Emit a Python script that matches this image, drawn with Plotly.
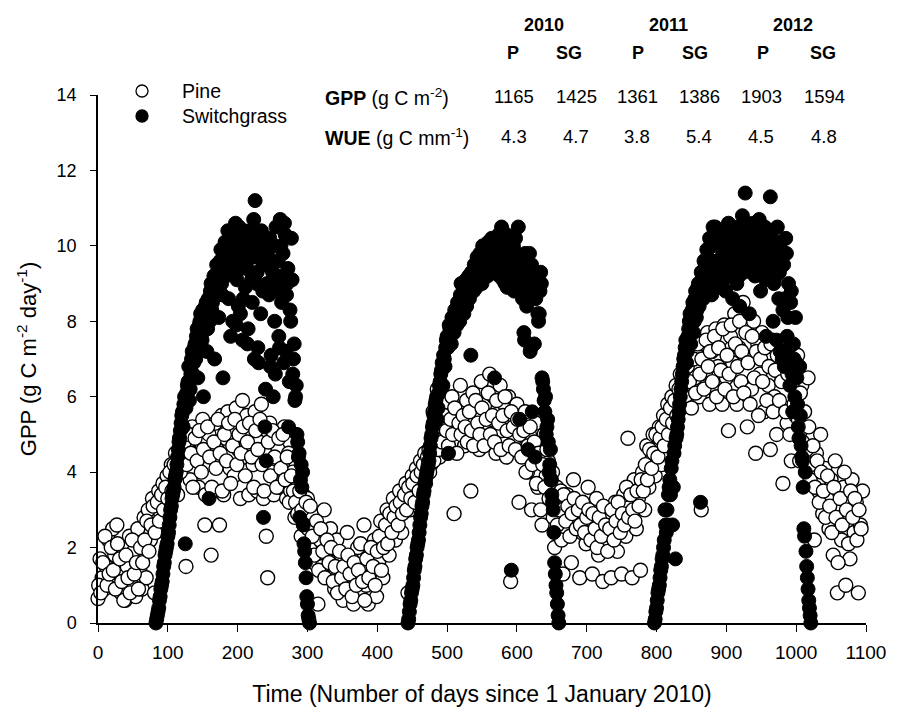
import plotly.graph_objects as go

# ---------------- data ----------------
pine_day = [0, 3, 6, 9, 12, 15, 18, 21, 24, 27, 30, 33, 36, 39, 42, 45, 48, 51, 54, 57,
            60, 63, 66, 69, 72, 75, 78, 81, 84, 87, 90, 93, 96, 99, 102, 105, 108, 111, 114, 117,
            120, 123, 126, 129, 132, 135, 138, 141, 144, 147, 150, 153, 156, 159, 162, 165, 168, 171, 174, 177,
            180, 183, 186, 189, 192, 195, 198, 201, 204, 207, 210, 213, 216, 219, 222, 225, 228, 231, 234, 237,
            240, 243, 246, 249, 252, 255, 258, 261, 264, 267, 270, 273, 276, 279, 282, 285, 288, 291, 294, 297,
            300, 303, 306, 309, 312, 315, 318, 321, 324, 327, 330, 333, 336, 339, 342, 345, 348, 351, 354, 357,
            360, 363, 366, 369, 372, 375, 378, 381, 384, 387, 390, 393, 396, 399, 402, 405, 408, 411, 414, 417,
            420, 423, 426, 429, 432, 435, 438, 441, 444, 447, 450, 453, 456, 459, 462, 465, 468, 471, 474, 477,
            480, 483, 486, 489, 492, 495, 498, 501, 504, 507, 510, 513, 516, 519, 522, 525, 528, 531, 534, 537,
            540, 543, 546, 549, 552, 555, 558, 561, 564, 567, 570, 573, 576, 579, 582, 585, 588, 591, 594, 597,
            600, 603, 606, 609, 612, 615, 618, 621, 624, 627, 630, 633, 636, 639, 642, 645, 648, 651, 654, 657,
            660, 663, 666, 669, 672, 675, 678, 681, 684, 687, 690, 693, 696, 699, 702, 705, 708, 711, 714, 717,
            720, 723, 726, 729, 732, 735, 738, 741, 744, 747, 750, 753, 756, 759, 762, 765, 768, 771, 774, 777,
            780, 783, 786, 789, 792, 795, 798, 801, 804, 807, 810, 813, 816, 819, 822, 825, 828, 831, 834, 837,
            840, 843, 846, 849, 852, 855, 858, 861, 864, 867, 870, 873, 876, 879, 882, 885, 888, 891, 894, 897,
            900, 903, 906, 909, 912, 915, 918, 921, 924, 927, 930, 933, 936, 939, 942, 945, 948, 951, 954, 957,
            960, 963, 966, 969, 972, 975, 978, 981, 984, 987, 990, 993, 996, 999, 1002, 1005, 1008, 1011, 1014, 1017,
            1020, 1023, 1026, 1029, 1032, 1035, 1038, 1041, 1044, 1047, 1050, 1053, 1056, 1059, 1062, 1065, 1068, 1071, 1074, 1077,
            1080, 1083, 1086, 1089, 1092, 1095]
pine_gpp = [0.65, 1.7, 1.2, 0.9, 1.5, 2.2, 1.1, 2.5, 1.8, 2.6, 1.3, 0.8, 2.0, 0.6, 1.5, 2.3, 1.0, 1.9, 0.7, 2.5,
            1.4, 0.9, 2.8, 1.2, 3.0, 2.2, 3.3, 0.8, 2.6, 3.5, 2.9, 3.7, 3.2, 3.9, 3.0, 4.2, 3.6, 4.5, 3.4, 4.9,
            4.3, 5.1, 1.5, 4.6, 3.8, 5.2, 4.4, 5.0, 3.6, 4.8, 5.4, 2.6, 4.2, 5.0, 1.8, 3.5, 5.3, 4.6, 2.6, 5.5,
            3.4, 4.9, 5.6, 4.1, 5.2, 3.9, 5.7, 4.6, 3.3, 5.9, 4.4, 5.5, 3.4, 5.0, 4.2, 5.6, 3.5, 4.8, 5.8, 3.3,
            4.5, 1.2, 5.3, 4.0, 3.4, 5.0, 4.6, 3.6, 4.2, 5.2, 3.3, 4.5, 3.5, 4.0, 2.8, 3.6, 3.2, 2.3, 3.4, 2.6,
            3.3, 2.0, 2.9, 1.6, 2.5, 0.5, 2.2, 1.5, 3.0, 1.9, 1.2, 2.5, 1.6, 0.9, 2.2, 1.3, 1.8, 0.6, 1.4, 2.4,
            1.0, 1.7, 0.5, 1.2, 2.0, 0.8, 1.5, 2.6, 1.0, 0.5, 1.8, 1.3, 2.2, 0.7, 1.6, 2.7, 1.2, 2.3, 3.0, 1.8,
            2.6, 3.3, 2.2, 2.9, 3.5, 2.4, 3.1, 3.7, 0.8, 3.0, 3.9, 3.4, 4.1, 3.6, 4.3, 3.8, 4.5, 4.0, 4.6, 4.2,
            5.6, 4.8, 6.2, 4.4, 5.3, 5.0, 5.8, 4.5, 5.5, 6.0, 2.9, 5.2, 4.8, 6.3, 5.7, 4.7, 5.9, 5.3, 3.5, 6.1,
            5.0, 5.6, 4.6, 6.4, 5.2, 5.8, 4.9, 6.6, 5.4, 6.0, 4.5, 5.7, 6.3, 5.1, 5.8, 4.4, 6.0, 1.1, 5.5, 4.9,
            5.8, 3.2, 5.2, 4.5, 5.6, 4.0, 5.0, 3.0, 4.6, 5.3, 3.6, 4.4, 2.6, 5.0, 3.9, 4.3, 3.2, 4.0, 2.0, 3.6,
            2.8, 3.5, 1.3, 2.5, 3.4, 2.9, 1.6, 3.8, 2.6, 3.2, 1.2, 2.4, 3.0, 2.1, 3.6, 2.7, 1.3, 2.2, 3.3, 1.8,
            2.6, 1.1, 3.0, 2.0, 2.8, 1.2, 2.4, 3.2, 1.9, 2.7, 1.3, 3.4, 2.3, 4.9, 2.9, 1.2, 3.8, 2.5, 3.3, 1.4,
            4.0, 3.0, 4.7, 3.6, 4.3, 5.0, 3.9, 4.6, 5.2, 4.2, 5.5, 4.8, 5.8, 5.1, 6.0, 5.4, 6.3, 5.8, 6.6, 6.0,
            7.0, 6.3, 7.3, 5.9, 7.5, 6.5, 7.1, 6.0, 3.0, 7.4, 6.6, 7.7, 5.8, 7.2, 6.2, 7.8, 6.8, 7.5, 5.8, 7.9,
            6.5, 5.1, 7.6, 6.9, 8.2, 5.8, 7.3, 6.4, 8.5, 7.0, 5.2, 7.8, 6.2, 8.0, 4.5, 7.4, 6.6, 7.7, 5.6, 7.0,
            6.3, 4.6, 7.5, 6.0, 5.0, 7.2, 6.6, 3.7, 7.0, 5.3, 6.4, 4.3, 6.9, 5.5, 7.1, 4.3, 6.3, 5.0, 4.4, 6.5,
            3.8, 4.9, 2.2, 4.5, 3.5, 5.0, 2.9, 4.1, 3.3, 2.5, 3.8, 1.8, 4.3, 0.8, 3.0, 2.2, 3.6, 1.0, 2.7, 1.7,
            3.8, 2.4, 3.2, 0.8, 2.6, 3.5]

pine_day_b = [1, 4, 7, 10, 13, 16, 19, 22, 25, 28,
              31, 34, 37, 40, 43, 46, 49, 52, 55, 58,
              61, 64, 67, 70, 73, 76, 79, 82, 85, 88,
              91, 94, 97, 100, 103, 106, 109, 112, 115, 118,
              121, 124, 127, 130, 133, 136, 139, 142, 145, 148,
              151, 154, 157, 160, 163, 166, 169, 172, 175, 178,
              181, 184, 187, 190, 193, 196, 199, 202, 205, 208,
              211, 214, 217, 220, 223, 226, 229, 232, 235, 238,
              241, 244, 247, 250, 253, 256, 259, 262, 265, 268,
              271, 274, 277, 280, 283, 286, 289, 292, 295, 298,
              301, 304, 307, 310, 313, 316, 319, 322, 325, 328,
              331, 334, 337, 340, 343, 346, 349, 352, 355, 358,
              361, 364, 367, 370, 373, 376, 379, 382, 385, 388,
              391, 394, 397, 400, 403, 406, 409, 412, 415, 418,
              421, 424, 427, 430, 433, 436, 439, 442, 445, 448,
              451, 454, 457, 460, 463, 466, 469, 472, 475, 478,
              481, 484, 487, 490, 493, 496, 499, 502, 505, 508,
              511, 514, 517, 520, 523, 526, 529, 532, 535, 538,
              541, 544, 547, 550, 553, 556, 559, 562, 565, 568,
              571, 574, 577, 580, 583, 586, 589, 592, 595, 598,
              601, 604, 607, 610, 613, 616, 619, 622, 625, 628,
              631, 634, 637, 640, 643, 646, 649, 652, 655, 658,
              661, 664, 667, 670, 673, 676, 679, 682, 685, 688,
              691, 694, 697, 700, 703, 706, 709, 712, 715, 718,
              721, 724, 727, 730, 733, 736, 739, 742, 745, 748,
              751, 754, 757, 760, 763, 766, 769, 772, 775, 778,
              781, 784, 787, 790, 793, 796, 799, 802, 805, 808,
              811, 814, 817, 820, 823, 826, 829, 832, 835, 838,
              841, 844, 847, 850, 853, 856, 859, 862, 865, 868,
              871, 874, 877, 880, 883, 886, 889, 892, 895, 898,
              901, 904, 907, 910, 913, 916, 919, 922, 925, 928,
              931, 934, 937, 940, 943, 946, 949, 952, 955, 958,
              961, 964, 967, 970, 973, 976, 979, 982, 985, 988,
              991, 994, 997, 1000, 1003, 1006, 1009, 1012, 1015, 1018,
              1021, 1024, 1027, 1030, 1033, 1036, 1039, 1042, 1045, 1048,
              1051, 1054, 1057, 1060, 1063, 1066, 1069, 1072, 1075, 1078,
              1081, 1084, 1087, 1090, 1093]
pine_gpp_b = [1.0, 0.8, 1.6, 2.3, 1.0, 1.3, 2.0, 1.4, 0.9, 2.1,
              1.7, 1.1, 0.6, 1.8, 1.2, 0.8, 2.2, 1.3, 1.6, 0.9,
              2.0, 1.6, 2.2, 2.7, 1.9, 2.6, 3.1, 2.4, 3.2, 2.7,
              3.4, 3.0, 3.6, 3.3, 4.0, 3.5, 4.2, 3.9, 4.4, 4.0,
              4.6, 4.8, 4.2, 5.0, 4.5, 3.6, 4.9, 4.3, 5.1, 4.0,
              4.6, 3.4, 5.2, 4.4, 3.6, 4.8, 4.1, 5.4, 4.5, 3.5,
              5.0, 4.3, 5.3, 3.7, 4.7, 5.4, 4.2, 5.0, 4.5, 5.2,
              3.9, 4.8, 5.3, 4.4, 3.6, 5.1, 4.6, 5.4, 4.2, 3.5,
              2.3, 4.8, 3.9, 5.1, 4.4, 3.6, 4.9, 4.1, 5.0, 3.8,
              4.4, 3.2, 3.9, 3.5, 3.2, 2.9, 3.5, 3.0, 2.6, 3.2,
              2.5, 3.1, 2.3, 1.8, 2.7, 1.4, 2.5, 1.9, 1.2, 2.2,
              1.6, 2.0, 1.1, 1.5, 0.8, 1.9, 1.2, 1.5, 0.9, 1.8,
              1.3, 0.7, 1.6, 1.0, 1.4, 2.1, 1.1, 0.6, 1.7, 1.2,
              2.0, 1.5, 1.0, 1.9, 2.3, 1.4, 2.0, 2.6, 2.1, 2.9,
              2.4, 2.8, 3.1, 2.6, 3.2, 2.9, 3.4, 3.0, 3.6, 3.3,
              3.7, 3.2, 3.9, 3.5, 4.0, 4.2, 3.7, 4.4, 4.0, 4.7,
              4.3, 5.0, 4.6, 5.2, 4.8, 5.5, 5.1, 4.7, 5.4, 5.0,
              5.7, 4.5, 5.3, 5.0, 5.5, 5.2, 4.8, 5.6, 5.1, 4.7,
              5.9, 5.3, 5.0, 5.7, 4.7, 5.4, 6.1, 5.0, 5.5, 4.8,
              5.9, 5.3, 4.6, 5.5, 6.0, 5.1, 4.7, 5.6, 5.2, 4.6,
              5.4, 5.0, 4.4, 5.1, 4.0, 4.7, 5.2, 4.2, 4.8, 3.7,
              4.5, 3.0, 4.2, 3.6, 4.6, 3.3, 3.8, 2.8, 3.3, 2.6,
              3.0, 2.2, 3.4, 2.7, 3.1, 2.3, 2.9, 3.3, 2.5, 3.0,
              2.6, 3.2, 2.4, 2.8, 3.0, 2.2, 2.9, 2.5, 2.0, 2.8,
              2.3, 3.1, 2.6, 1.9, 2.5, 3.0, 2.2, 2.7, 3.2, 2.4,
              2.9, 2.6, 3.6, 2.8, 3.4, 3.0, 2.7, 3.5, 3.1, 3.8,
              3.5, 4.2, 3.8, 4.6, 4.1, 4.5, 5.0, 4.4, 4.9, 5.2,
              4.7, 5.4, 5.0, 5.7, 5.3, 5.9, 5.5, 6.2, 5.7, 6.5,
              6.0, 6.8, 6.4, 5.7, 7.0, 6.1, 7.4, 6.6, 7.0, 6.2,
              7.5, 6.8, 7.2, 6.4, 7.6, 6.0, 7.3, 6.7, 7.8, 6.2,
              7.1, 6.6, 7.9, 6.0, 7.4, 6.8, 8.0, 7.2, 6.1, 7.7,
              6.9, 5.8, 7.6, 6.5, 7.2, 5.5, 7.0, 6.4, 7.3, 5.9,
              6.8, 7.4, 5.6, 6.7, 7.1, 5.9, 6.4, 7.2, 5.6, 6.6,
              5.0, 6.3, 5.8, 6.8, 5.4, 6.1, 4.8, 5.6, 4.6, 5.2,
              4.2, 4.7, 3.6, 4.3, 3.2, 4.0, 3.5, 2.8, 3.9, 3.1,
              2.4, 3.6, 2.8, 1.6, 3.3, 2.6, 4.0, 3.0, 2.1, 3.5,
              2.8, 3.3, 2.2, 3.0, 2.5]

sg_day = [83, 85, 87, 89, 91, 93, 95, 97, 99, 101, 103, 105, 107, 109, 111, 113, 115, 117, 119, 121,
          123, 125, 127, 129, 131, 133, 135, 137, 139, 141, 143, 145, 147, 149, 151, 153, 155, 157, 159, 161,
          163, 165, 167, 169, 171, 173, 175, 177, 179, 181, 183, 185, 187, 189, 191, 193, 195, 197, 199, 201,
          203, 205, 207, 209, 211, 213, 215, 217, 219, 221, 223, 225, 227, 229, 231, 233, 235, 237, 239, 241,
          243, 245, 247, 249, 251, 253, 255, 257, 259, 261, 263, 265, 267, 269, 271, 273, 275, 277, 279, 281,
          283, 285, 287, 289, 291, 293, 295, 297, 299, 301, 303,
          444, 446, 448, 450, 452, 454, 456, 458, 460, 462, 464, 466, 468, 470, 472, 474, 476, 478, 480, 482,
          484, 486, 488, 490, 492, 494, 496, 498, 500, 502, 504, 506, 508, 510, 512, 514, 516, 518, 520, 522,
          524, 526, 528, 530, 532, 534, 536, 538, 540, 542, 544, 546, 548, 550, 552, 554, 556, 558, 560, 562,
          564, 566, 568, 570, 572, 574, 576, 578, 580, 582, 584, 586, 588, 590, 592, 594, 596, 598, 600, 602,
          604, 606, 608, 610, 612, 614, 616, 618, 620, 622, 624, 626, 628, 630, 632, 634, 636, 638, 640, 642,
          644, 646, 648, 650, 652, 654, 656, 658, 660,
          797, 799, 801, 803, 805, 807, 809, 811, 813, 815, 817, 819, 821, 823, 825, 827, 829, 831, 833, 835,
          837, 839, 841, 843, 845, 847, 849, 851, 853, 855, 857, 859, 861, 863, 865, 867, 869, 871, 873, 875,
          877, 879, 881, 883, 885, 887, 889, 891, 893, 895, 897, 899, 901, 903, 905, 907, 909, 911, 913, 915,
          917, 919, 921, 923, 925, 927, 929, 931, 933, 935, 937, 939, 941, 943, 945, 947, 949, 951, 953, 955,
          957, 959, 961, 963, 965, 967, 969, 971, 973, 975, 977, 979, 981, 983, 985, 987, 989, 991, 993, 995,
          997, 999, 1001, 1003, 1005, 1007, 1009, 1011, 1013, 1015, 1017, 1019, 1021]
sg_gpp = [0.0, 0.2, 0.4, 0.7, 1.0, 1.3, 1.6, 1.9, 2.1, 2.4, 2.8, 3.1, 3.4, 3.6, 3.9, 4.2, 4.6, 4.9, 5.3, 5.6,
          5.8, 2.1, 6.1, 6.4, 5.9, 6.6, 7.2, 6.9, 7.4, 7.6, 6.5, 7.9, 8.2, 7.5, 6.0, 8.0, 8.5, 7.8, 3.3, 8.8,
          8.3, 9.0, 7.0, 8.7, 9.3, 8.1, 9.6, 9.0, 6.5, 9.8, 9.2, 10.0, 8.6, 9.5, 10.3, 8.0, 9.7, 10.6, 9.1, 8.4,
          10.1, 9.4, 7.5, 10.4, 8.9, 9.9, 7.8, 10.2, 9.3, 8.5, 10.7, 11.2, 9.0, 7.3, 10.3, 8.2, 9.6, 2.8, 5.2, 4.3,
          10.0, 8.7, 6.8, 9.4, 6.0, 8.0, 10.5, 9.1, 7.6, 10.7, 8.5, 9.8, 10.6, 7.2, 9.0, 5.2, 8.3, 10.2, 6.6, 7.4,
          6.0, 5.0, 4.4, 2.8, 4.2, 4.0, 2.1, 1.6, 0.7, 0.2, 0.0,
          0.0, 0.3, 0.6, 0.9, 1.2, 1.5, 1.8, 2.1, 2.4, 2.8, 3.1, 3.4, 3.7, 3.9, 4.1, 4.3, 4.7, 5.0, 5.3, 5.6,
          5.9, 5.4, 6.1, 6.4, 6.7, 6.3, 7.0, 7.3, 7.6, 4.5, 7.8, 7.4, 8.0, 7.7, 8.2, 7.9, 8.4, 8.0, 9.0, 8.6,
          8.2, 8.8, 8.4, 9.0, 8.6, 7.1, 9.2, 8.8, 9.4, 8.9, 9.5, 9.1, 9.6, 9.0, 9.8, 9.3, 9.9, 9.2, 10.0, 9.5,
          10.2, 9.3, 6.5, 9.9, 9.4, 10.3, 9.6, 10.5, 9.1, 10.0, 9.5, 8.9, 10.1, 9.3, 1.4, 9.7, 8.8, 10.2, 9.0, 10.5,
          5.4, 9.4, 8.6, 7.7, 9.8, 8.4, 4.6, 9.8, 7.3, 5.6, 8.8, 4.4, 9.1, 8.2, 8.2, 9.3, 6.5, 6.2, 5.6, 5.0,
          5.4, 4.0, 4.6, 3.4, 3.0, 1.6, 1.0, 0.5, 0.0,
          0.0, 0.3, 0.6, 0.9, 1.2, 1.5, 1.8, 2.2, 2.6, 3.0, 3.4, 3.8, 4.1, 2.6, 4.5, 1.7, 5.0, 5.4, 5.8, 6.2,
          6.6, 7.0, 7.3, 6.9, 7.6, 8.0, 7.4, 8.3, 7.7, 8.6, 8.1, 8.9, 8.4, 3.2, 9.1, 8.6, 9.4, 8.8, 9.7, 9.0,
          10.0, 8.7, 10.5, 9.3, 10.1, 8.9, 9.6, 10.3, 9.1, 9.8, 10.4, 8.8, 9.5, 10.6, 9.2, 10.0, 8.6, 9.7, 10.4, 9.0,
          10.1, 8.4, 9.6, 10.8, 9.3, 11.4, 10.2, 9.5, 8.2, 10.4, 9.8, 10.6, 9.2, 10.0, 9.6, 10.7, 8.8, 10.2, 9.4, 10.5,
          7.6, 9.9, 10.3, 11.3, 9.5, 8.0, 10.0, 9.2, 10.5, 8.6, 7.2, 9.8, 8.3, 6.8, 10.2, 7.6, 9.0, 6.3, 8.8, 5.6,
          7.0, 8.1, 6.5, 5.2, 6.8, 4.7, 4.3, 2.5, 4.0, 1.5, 0.9, 0.4, 0.0]

sg_day_b = [84, 86, 88, 90, 92, 94, 96, 98, 100, 102,
            104, 106, 108, 110, 112, 114, 116, 118, 120, 122,
            124, 126, 128, 130, 132, 134, 136, 138, 140, 142,
            144, 146, 148, 150, 152, 154, 156, 158, 160, 162,
            164, 166, 168, 170, 172, 174, 176, 178, 180, 182,
            184, 186, 188, 190, 192, 194, 196, 198, 200, 202,
            204, 206, 208, 210, 212, 214, 216, 218, 220, 222,
            224, 226, 228, 230, 232, 234, 236, 238, 240, 242,
            244, 246, 248, 250, 252, 254, 256, 258, 260, 262,
            264, 266, 268, 270, 272, 274, 276, 278, 280, 282,
            284, 286, 288, 290, 292, 294, 296, 298, 300, 302,
            445, 447, 449, 451, 453, 455, 457, 459, 461, 463,
            465, 467, 469, 471, 473, 475, 477, 479, 481, 483,
            485, 487, 489, 491, 493, 495, 497, 499, 501, 503,
            505, 507, 509, 511, 513, 515, 517, 519, 521, 523,
            525, 527, 529, 531, 533, 535, 537, 539, 541, 543,
            545, 547, 549, 551, 553, 555, 557, 559, 561, 563,
            565, 567, 569, 571, 573, 575, 577, 579, 581, 583,
            585, 587, 589, 591, 593, 595, 597, 599, 601, 603,
            605, 607, 609, 611, 613, 615, 617, 619, 621, 623,
            625, 627, 629, 631, 633, 635, 637, 639, 641, 643,
            645, 647, 649, 651, 653, 655, 657, 659,
            798, 800, 802, 804, 806, 808, 810, 812, 814, 816,
            818, 820, 822, 824, 826, 828, 830, 832, 834, 836,
            838, 840, 842, 844, 846, 848, 850, 852, 854, 856,
            858, 860, 862, 864, 866, 868, 870, 872, 874, 876,
            878, 880, 882, 884, 886, 888, 890, 892, 894, 896,
            898, 900, 902, 904, 906, 908, 910, 912, 914, 916,
            918, 920, 922, 924, 926, 928, 930, 932, 934, 936,
            938, 940, 942, 944, 946, 948, 950, 952, 954, 956,
            958, 960, 962, 964, 966, 968, 970, 972, 974, 976,
            978, 980, 982, 984, 986, 988, 990, 992, 994, 996,
            998, 1000, 1002, 1004, 1006, 1008, 1010, 1012, 1014, 1016,
            1018, 1020]
sg_gpp_b = [0.1, 0.3, 0.6, 0.9, 1.1, 1.5, 1.8, 2.0, 2.3, 2.6,
            3.0, 3.3, 3.5, 3.8, 4.0, 4.4, 4.8, 5.1, 5.5, 5.2,
            6.0, 5.7, 6.3, 6.8, 6.2, 7.0, 6.6, 7.3, 7.0, 7.8,
            7.2, 8.0, 7.6, 8.3, 7.9, 8.4, 7.2, 8.6, 8.0, 9.0,
            8.5, 9.2, 8.8, 9.5, 8.9, 9.4, 9.9, 8.7, 9.6, 10.1,
            9.3, 10.4, 9.7, 7.6, 10.0, 9.4, 10.2, 7.9, 9.6, 10.5,
            8.2, 9.8, 8.6, 10.0, 9.5, 7.4, 9.9, 10.4, 9.1, 9.7,
            7.0, 10.1, 9.3, 6.9, 9.8, 10.4, 8.8, 9.5, 6.2, 9.0,
            9.7, 10.2, 7.1, 9.3, 10.0, 6.6, 8.8, 9.6, 7.3, 10.0,
            9.2, 6.9, 10.3, 8.7, 9.4, 6.4, 8.0, 9.1, 7.0, 5.9,
            6.3, 4.8, 4.5, 3.8, 3.6, 2.6, 1.9, 1.2, 0.5, 0.1,
            0.1, 0.5, 0.8, 1.0, 1.4, 1.7, 2.0, 2.2, 2.6, 2.9,
            3.2, 3.5, 3.8, 4.0, 4.2, 4.5, 4.9, 5.2, 5.5, 5.8,
            6.0, 5.7, 6.3, 6.6, 6.9, 7.1, 6.8, 7.5, 7.3, 7.9,
            7.6, 8.1, 7.8, 8.3, 8.0, 8.5, 8.2, 8.7, 8.3, 8.9,
            8.5, 9.1, 8.7, 9.2, 8.8, 9.3, 9.0, 9.5, 9.1, 9.7,
            9.3, 9.8, 9.4, 10.0, 9.5, 9.7, 9.3, 10.1, 9.6, 9.9,
            9.4, 10.1, 9.6, 10.2, 9.7, 9.2, 10.0, 9.5, 9.8, 9.0,
            10.3, 9.6, 9.1, 9.9, 9.4, 10.0, 9.3, 9.8, 9.2, 9.6,
            8.9, 9.7, 9.0, 7.5, 9.4, 8.6, 9.1, 7.2, 9.5, 8.7,
            7.4, 8.6, 9.3, 8.0, 8.8, 9.0, 6.4, 5.9, 6.0, 5.2,
            4.8, 4.2, 3.8, 3.2, 2.4, 1.3, 0.8, 0.2,
            0.1, 0.4, 0.8, 1.0, 1.4, 1.7, 2.0, 3.0, 2.4, 2.6,
            3.6, 3.4, 4.3, 3.6, 4.7, 4.9, 5.2, 5.6, 6.0, 6.4,
            6.8, 7.1, 7.5, 7.2, 7.8, 8.2, 7.7, 8.5, 8.0, 8.8,
            8.3, 9.0, 8.6, 9.3, 8.9, 9.6, 9.1, 9.9, 9.3, 10.2,
            9.5, 10.0, 9.2, 10.5, 9.6, 10.2, 9.4, 10.0, 9.0, 10.3,
            9.7, 10.1, 9.3, 10.4, 9.8, 10.2, 9.4, 10.0, 9.6, 10.5,
            9.2, 10.1, 9.7, 10.3, 9.4, 9.9, 10.6, 9.6, 10.1, 9.3,
            10.3, 9.7, 10.5, 9.4, 10.2, 9.8, 10.4, 9.5, 10.0, 9.1,
            10.3, 9.6, 10.0, 9.3, 10.4, 9.0, 9.7, 7.5, 9.9, 9.3,
            10.1, 7.0, 9.5, 8.6, 9.8, 8.1, 7.3, 8.5, 6.6, 7.4,
            6.0, 6.9, 5.8, 4.9, 5.5, 4.4, 3.6, 2.3, 1.9, 1.2,
            0.6, 0.2]

x_ticks = [0, 100, 200, 300, 400, 500, 600, 700, 800, 900, 1000, 1100]
y_ticks = [0, 2, 4, 6, 8, 10, 12, 14]

years = ["2010", "2011", "2012"]
sites = ["P", "SG", "P", "SG", "P", "SG"]
gpp_annual = ["1165", "1425", "1361", "1386", "1903", "1594"]
wue_annual = ["4.3", "4.7", "3.8", "5.4", "4.5", "4.8"]

assert len(pine_day) == len(pine_gpp) and len(pine_day_b) == len(pine_gpp_b)
assert len(sg_day) == len(sg_gpp) and len(sg_day_b) == len(sg_gpp_b)

# ---------------- figure ----------------
FONT = "Arial, Liberation Sans, Helvetica, sans-serif"
W, H = 907, 715
PAGE = 8                      # default body margin of the html page
AX_L, AX_R, AX_T, AX_B = 98, 866, 95, 623.5   # plot area in page pixels

fig = go.Figure()
fig.add_trace(go.Scatter(
    x=pine_day + pine_day_b, y=pine_gpp + pine_gpp_b, mode="markers", name="Pine",
    cliponaxis=False, showlegend=False,
    marker=dict(size=14, color="white", line=dict(color="black", width=1.4))))
fig.add_trace(go.Scatter(
    x=sg_day + sg_day_b, y=sg_gpp + sg_gpp_b, mode="markers", name="Switchgrass",
    cliponaxis=False, showlegend=False,
    marker=dict(size=14, color="black", line=dict(color="black", width=1.0))))


def px(xp):
    return (xp - AX_L) / (AX_R - AX_L)


def py(yp):
    return (AX_B - yp) / (AX_B - AX_T)


ann = []


def add_text(x, y, text, size, anchor="center"):
    ann.append(dict(x=px(x), y=py(y), text=text, xref="paper", yref="paper",
                    xanchor=anchor, yanchor="middle", showarrow=False,
                    font=dict(family=FONT, size=size, color="black")))


for yr, xc in zip(years, [544, 668, 793]):
    add_text(xc, 25, "<b>%s</b>" % yr, 18)
for s, xc in zip(sites, [513, 569, 638, 695, 763, 823]):
    add_text(xc, 53, "<b>%s</b>" % s, 18)
num_x = [514, 576, 637, 699, 761, 824]
for v, xc in zip(gpp_annual, num_x):
    add_text(xc, 97, v, 18.5)
for v, xc in zip(wue_annual, num_x):
    add_text(xc, 137, v, 18.5)
add_text(323, 97, "<b>GPP</b> (g C m<sup>-2</sup>)", 19.5, "left")
add_text(323, 137, "<b>WUE</b> (g C mm<sup>-1</sup>)", 19.5, "left")

# legend (drawn by hand to match the original spacing)
add_text(180, 91, "Pine", 19.5, "left")
add_text(180, 116, "Switchgrass", 19.5, "left")
shapes = []
for yc, fill in [(91, "white"), (116, "black")]:
    shapes.append(dict(type="circle", xref="paper", yref="paper",
                       xsizemode="pixel", ysizemode="pixel",
                       xanchor=px(142), yanchor=py(yc), x0=-6, x1=6, y0=-6, y1=6,
                       fillcolor=fill, line=dict(color="black", width=1.3)))

fig.update_layout(
    width=W, height=H,
    margin=dict(l=AX_L - PAGE, r=W - (AX_R - PAGE), t=AX_T - PAGE,
                b=H - (AX_B - PAGE), pad=0),
    paper_bgcolor="white", plot_bgcolor="white",
    font=dict(family=FONT, size=17, color="black"),
    showlegend=False,
    annotations=ann, shapes=shapes,
    xaxis=dict(range=[0, 1100], tickvals=x_ticks, ticks="outside", ticklen=7,
               tickwidth=1.3, tickcolor="black", showline=True, linecolor="black",
               linewidth=1.5, showgrid=False, zeroline=False, ticklabelstandoff=4,
               tickfont=dict(family=FONT, size=19),
               title=dict(text="Time (Number of days since 1 January 2010)",
                          font=dict(family=FONT, size=23), standoff=24)),
    yaxis=dict(range=[0, 14], tickvals=y_ticks, ticks="outside", ticklen=6,
               tickwidth=1.3, tickcolor="black", showline=True, linecolor="black",
               linewidth=1.5, showgrid=False, zeroline=False, ticklabelstandoff=10,
               tickfont=dict(family=FONT, size=18),
               title=dict(text="GPP (g C m<sup>-2</sup> day<sup>-1</sup>)",
                          font=dict(family=FONT, size=22), standoff=14)),
)

fig.write_html("out.html")
